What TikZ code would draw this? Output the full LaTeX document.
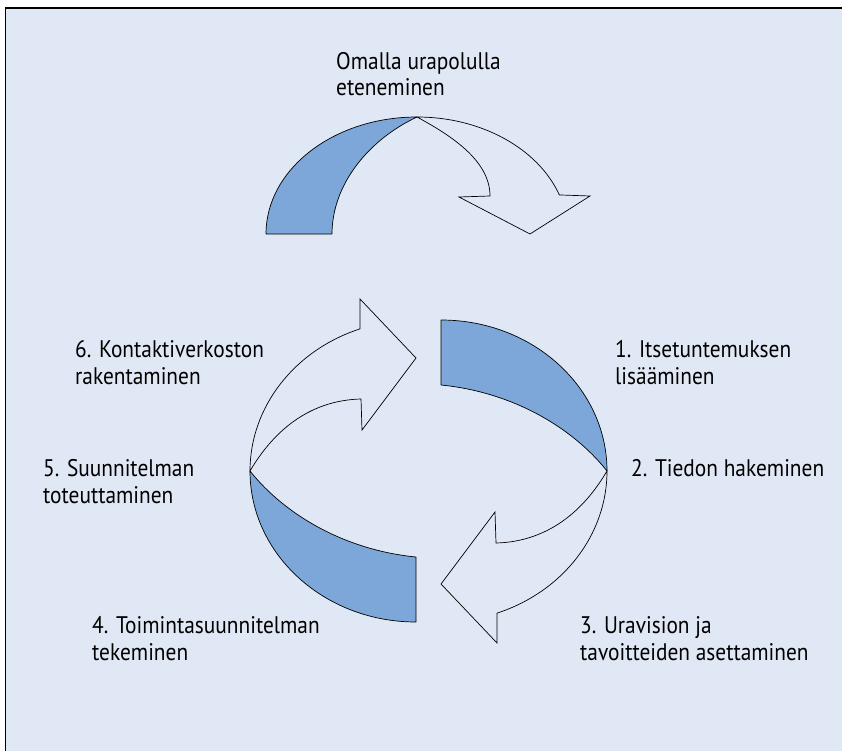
\documentclass[tikz,border=0pt]{standalone}
\usepackage{fontspec}
\setmainfont[FakeStretch=0.89]{PT Sans}
\usetikzlibrary{calc}

\definecolor{bgblue}{RGB}{225,232,245}
\definecolor{bandblue}{RGB}{124,167,216}

\tikzset{
  lbl/.style={anchor=base west, inner sep=0pt, font=\fontsize{24}{26.5}\selectfont},
  band/.style={fill=bandblue, draw=black, line width=0.7pt, line join=round},
  front/.style={draw=black, line width=0.7pt, line join=miter}
}

\begin{document}
\begin{tikzpicture}[x=1pt, y=-1pt]
    \useasboundingbox (0,0) rectangle (842,751);
    \clip (0,0) rectangle (842,751);
    % frame
    \fill[bgblue] (5.5,8) rectangle (850,760);
    \draw[line width=1.3pt] (5.5,760) -- (5.5,8) -- (850,8);

    % top arrow
    \draw[band] (266,234) arc[start angle=180, end angle=270, x radius=151, y radius=117]
        .. controls (368,140) and (332,185) .. (332,234) -- cycle;
    \draw[front] (417,117) arc[start angle=270, end angle=340.5, x radius=151, y radius=117]
        -- (590,196) -- (530,234) -- (459,197) -- (490,196)
        .. controls (490,160) and (450,135) .. (417,117) -- cycle;

    % cycle arrows
    \foreach \ang in {0,180} {
      \begin{scope}[rotate around={\ang:(428.5,471)}]
        \draw[band] (250,471) arc[start angle=180, end angle=90, x radius=166, y radius=151]
            -- (416,557) .. controls (345,550) and (285,515) .. (250,471) -- cycle;
        \draw[front] (250,471) arc[start angle=180, end angle=250.3, x radius=166, y radius=151]
            -- (360,299) -- (416,358) -- (362,430) -- (361,399)
            .. controls (320,400) and (280,420) .. (250,471) -- cycle;
      \end{scope}
    }

    % labels
    \node (omalla) [lbl] at (336,69.5) {\begin{tabular}[t]{@{}l@{}}
         Omalla urapolulla\\ eteneminen
    \end{tabular}};
    \node (itse) [lbl] at (615,357.5) {\begin{tabular}[t]{@{}l@{}}
         1. Itsetuntemuksen\\ lisääminen
    \end{tabular}};
    \node (tieto) [lbl] at (631,476.5) {2. Tiedon hakeminen};
    \node (uravisio) [lbl] at (580,633.5) {\begin{tabular}[t]{@{}l@{}}
         3. Uravision ja\\ tavoitteiden asettaminen
    \end{tabular}};
    \node (toiminta) [lbl] at (92,633.5) {\begin{tabular}[t]{@{}l@{}}
         4. Toimintasuunnitelman\\ tekeminen
    \end{tabular}};
    \node (toteutus) [lbl] at (43,476.5) {\begin{tabular}[t]{@{}l@{}}
         5. Suunnitelman\\ toteuttaminen
    \end{tabular}};
    \node (kontakti) [lbl] at (75,357.5) {\begin{tabular}[t]{@{}l@{}}
         6. Kontaktiverkoston\\ rakentaminen
    \end{tabular}};
\end{tikzpicture}
\end{document}
